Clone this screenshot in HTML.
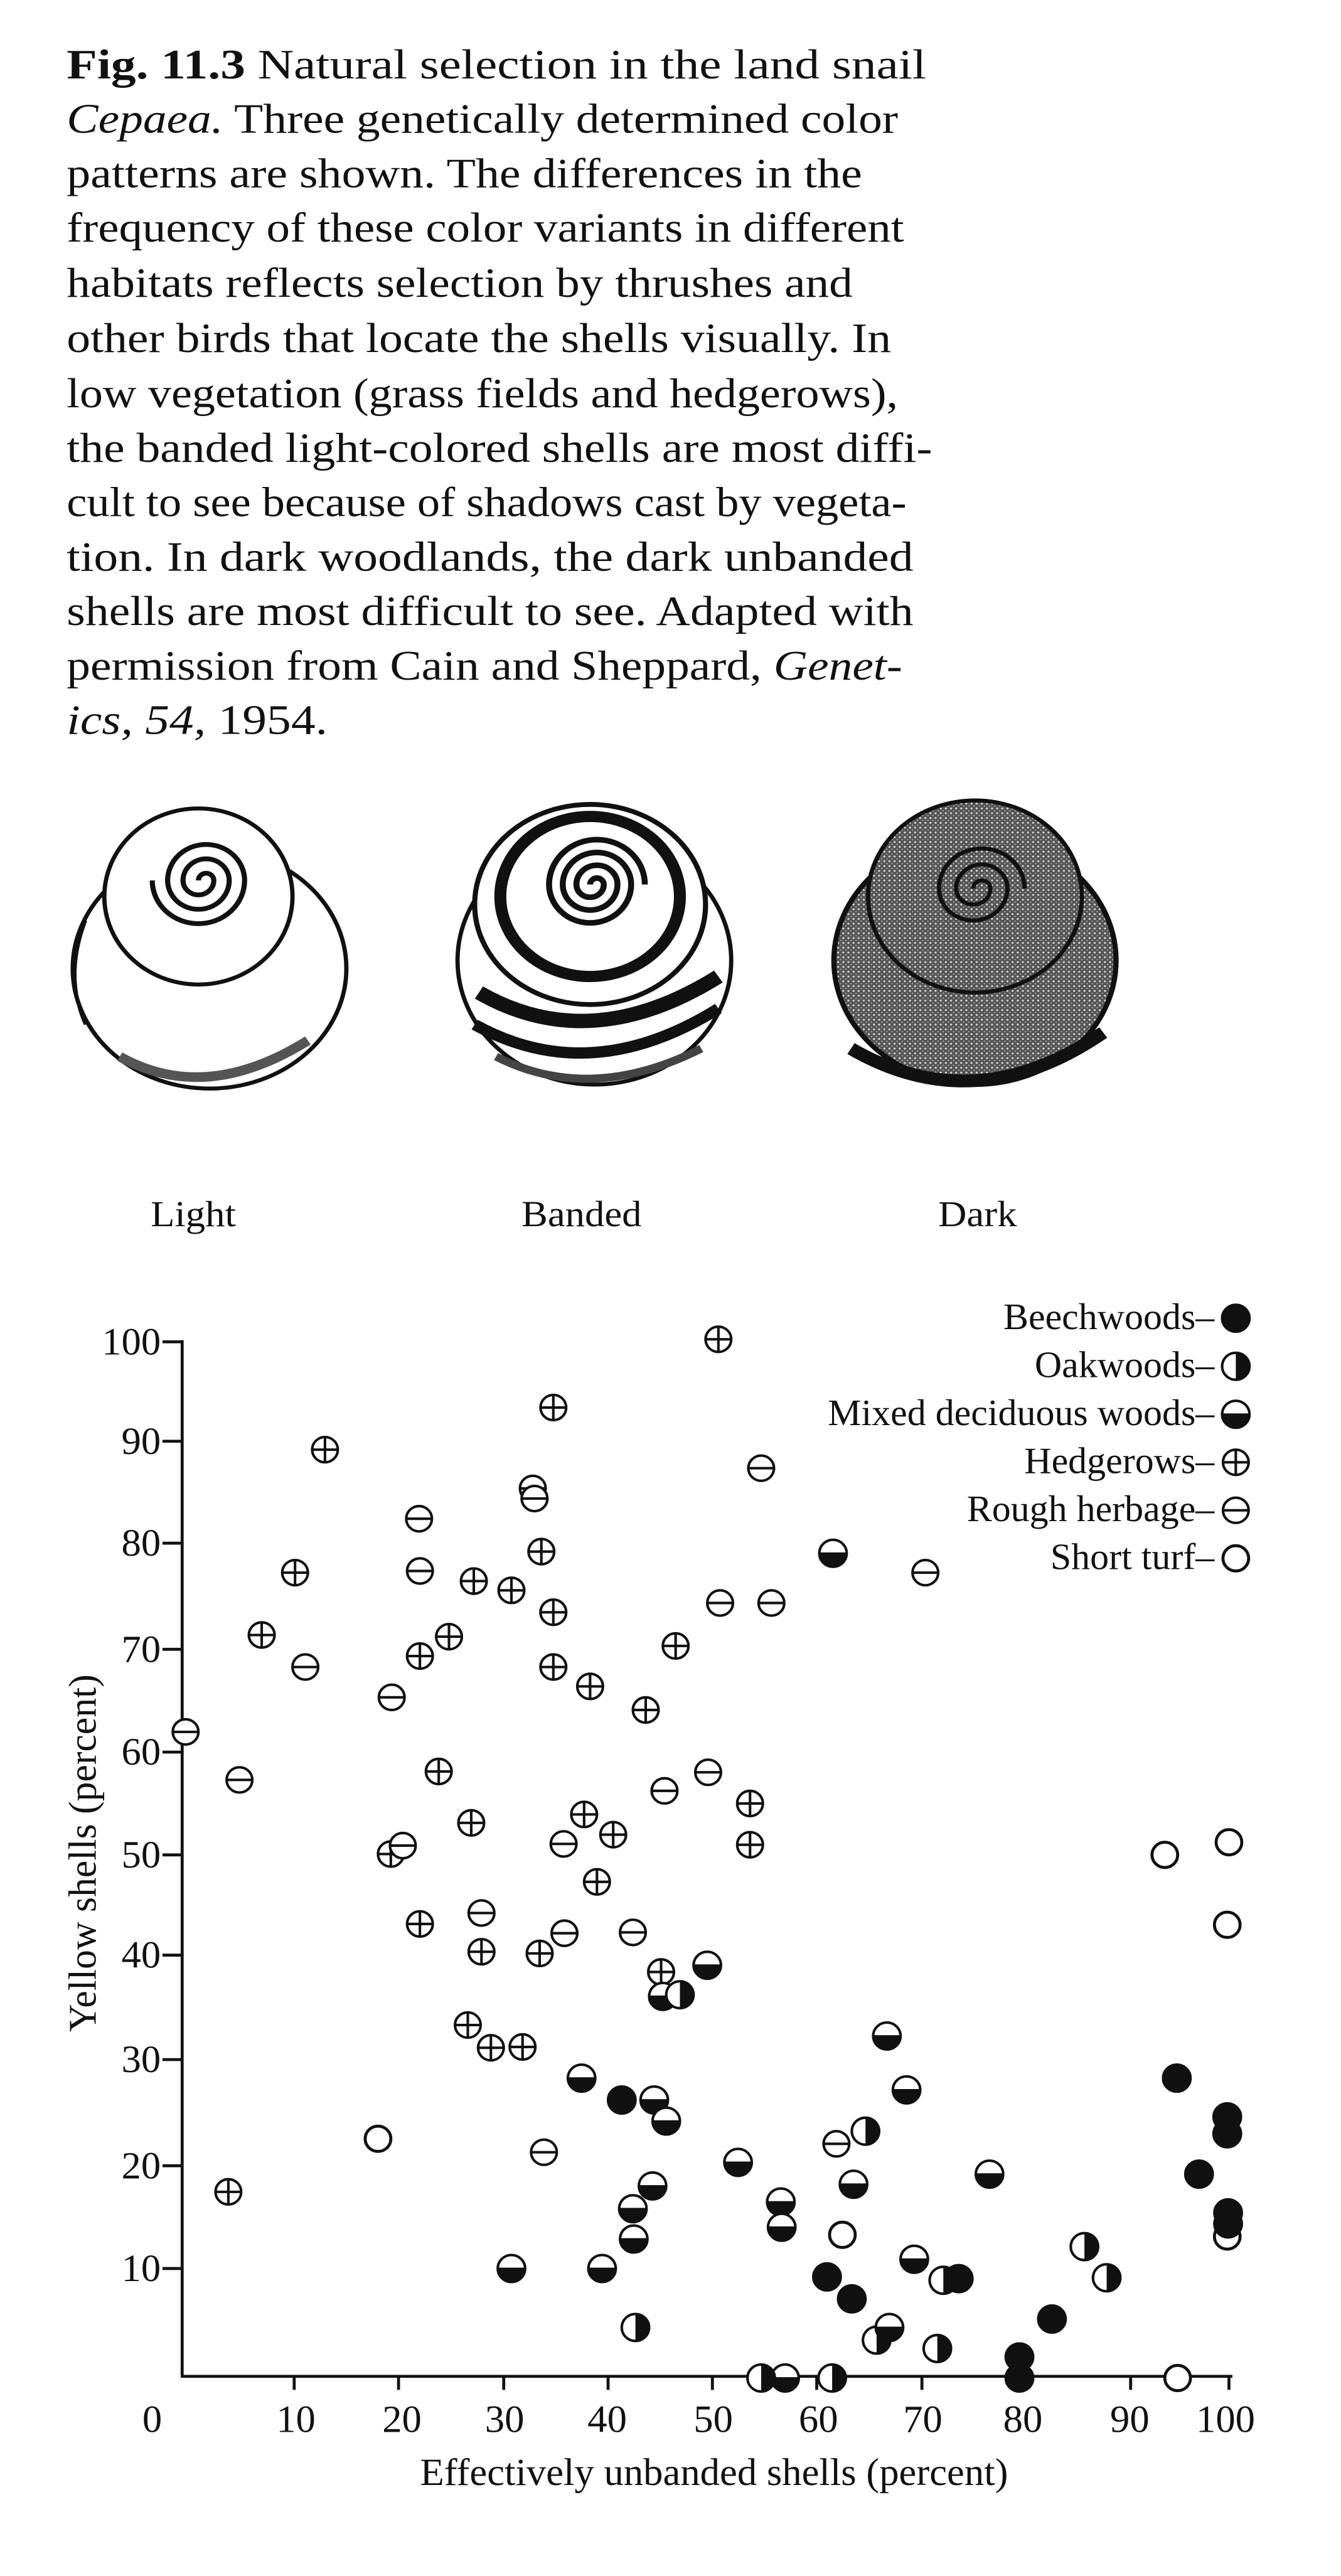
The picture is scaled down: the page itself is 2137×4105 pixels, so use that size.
<!DOCTYPE html>
<html><head><meta charset="utf-8"><style>
html,body{margin:0;padding:0;background:#fff;}
body{width:2137px;height:4105px;position:relative;overflow:hidden;}
svg{position:absolute;left:0;}
text{font-family:"Liberation Serif",serif;fill:#111;}
</style></head><body>
<svg style="top:0" width="2137" height="2000" viewBox="0 0 1568 1568" preserveAspectRatio="none">
<defs>
<pattern id="stip" width="6" height="6" patternUnits="userSpaceOnUse"><rect width="6" height="6" fill="#555"/><circle cx="2" cy="2" r="1.2" fill="#ddd"/><circle cx="5" cy="5" r="0.8" fill="#bbb"/></pattern>
</defs>
<g font-size="52">
<text x="78" y="98" textLength="1005" lengthAdjust="spacingAndGlyphs"><tspan font-weight="bold">Fig. 11.3</tspan>    Natural selection in the land snail</text>
<text x="78" y="166" textLength="972" lengthAdjust="spacingAndGlyphs"><tspan font-style="italic">Cepaea.</tspan> Three genetically determined color</text>
<text x="78" y="234" textLength="930" lengthAdjust="spacingAndGlyphs">patterns are shown. The differences in the</text>
<text x="78" y="302" textLength="979" lengthAdjust="spacingAndGlyphs">frequency of these color variants in different</text>
<text x="78" y="371" textLength="919" lengthAdjust="spacingAndGlyphs">habitats reflects selection by thrushes and</text>
<text x="78" y="440" textLength="964" lengthAdjust="spacingAndGlyphs">other birds that locate the shells visually. In</text>
<text x="78" y="509" textLength="972" lengthAdjust="spacingAndGlyphs">low vegetation (grass fields and hedgerows),</text>
<text x="78" y="577" textLength="1012" lengthAdjust="spacingAndGlyphs">the banded light-colored shells are most diffi-</text>
<text x="78" y="645" textLength="982" lengthAdjust="spacingAndGlyphs">cult to see because of shadows cast by vegeta-</text>
<text x="78" y="713" textLength="990" lengthAdjust="spacingAndGlyphs">tion. In dark woodlands, the dark unbanded</text>
<text x="78" y="781" textLength="990" lengthAdjust="spacingAndGlyphs">shells are most difficult to see. Adapted with</text>
<text x="78" y="849" textLength="977" lengthAdjust="spacingAndGlyphs">permission from Cain and Sheppard, <tspan font-style="italic">Genet-</tspan></text>
<text x="78" y="917" textLength="305" lengthAdjust="spacingAndGlyphs"><tspan font-style="italic">ics, 54,</tspan> 1954.</text>
</g>
<!-- Light snail -->
<g stroke="#111" fill="#fff">
<ellipse cx="245" cy="1210" rx="160" ry="150" stroke-width="5"/>
<ellipse cx="232" cy="1120" rx="110" ry="110" stroke-width="5"/>
<path d="M232,1100 a9,9 0 0,1 18,0 a18,18 0 0,1 -36,0 a27,27 0 0,1 54,0 a36,36 0 0,1 -72,0 a45,45 0 0,1 90,0 a54,54 0 0,1 -108,0" fill="none" stroke-width="6"/>
<path d="M100,1150 Q75,1220 100,1280" fill="none" stroke-width="4"/>
<path d="M140,1320 Q240,1380 360,1300" fill="none" stroke="#555" stroke-width="12"/>
</g>
<!-- Banded snail -->
<g stroke="#111" fill="#fff">
<ellipse cx="695" cy="1200" rx="160" ry="155" stroke-width="5"/>
<ellipse cx="690" cy="1130" rx="135" ry="125" stroke-width="6"/>
<path d="M560,1240 Q690,1320 840,1220" fill="none" stroke-width="18"/>
<path d="M555,1280 Q690,1360 840,1260" fill="none" stroke-width="14"/>
<path d="M580,1320 Q690,1380 820,1310" fill="none" stroke-width="10" stroke="#444"/>
<ellipse cx="690" cy="1120" rx="105" ry="100" fill="none" stroke-width="14"/>
<path d="M690,1105 a8,8 0 0,1 16,0 a16,16 0 0,1 -32,0 a24,24 0 0,1 48,0 a32,32 0 0,1 -64,0 a40,40 0 0,1 80,0 a48,48 0 0,1 -96,0 a56,56 0 0,1 112,0" fill="none" stroke-width="7"/>
</g>
<!-- Dark snail -->
<g stroke="#111">
<ellipse cx="1140" cy="1200" rx="165" ry="155" fill="url(#stip)" stroke-width="6"/>
<ellipse cx="1140" cy="1120" rx="125" ry="120" fill="url(#stip)" stroke-width="5"/>
<path d="M1138,1110 a10,10 0 0,1 20,0 a20,20 0 0,1 -40,0 a30,30 0 0,1 60,0 a40,40 0 0,1 -80,0 a50,50 0 0,1 100,0" fill="none" stroke-width="5"/>
<path d="M995,1310 Q1140,1400 1290,1290" fill="none" stroke-width="16"/>
</g>
<g font-size="46">
<text x="226" y="1532" text-anchor="middle">Light</text>
<text x="680" y="1532" text-anchor="middle">Banded</text>
<text x="1143" y="1532" text-anchor="middle">Dark</text>
</g>
</svg>

<svg style="top:2000px" width="2137" height="2105" viewBox="0 0 1568 1568" preserveAspectRatio="none">
<defs>
<g id="B"><circle r="16" fill="#111" stroke="#111" stroke-width="3"/></g>
<g id="O"><circle r="16" fill="#fff" stroke="#111" stroke-width="3"/><path d="M0,-16 A16,16 0 0,1 0,16 Z" fill="#111"/></g>
<g id="M"><circle r="16" fill="#fff" stroke="#111" stroke-width="3"/><path d="M-16,-1 A16,16 0 0,0 16,-1 Z" fill="#111"/></g>
<g id="H"><circle r="15" fill="#fff" stroke="#111" stroke-width="3"/><path d="M-15,0H15M0,-15V15" stroke="#111" stroke-width="3"/></g>
<g id="R"><circle r="15" fill="#fff" stroke="#111" stroke-width="3"/><path d="M-15,0H15" stroke="#111" stroke-width="3"/></g>
<g id="S"><circle r="15" fill="#fff" stroke="#111" stroke-width="3.5"/></g>
</defs>
<g stroke="#111" stroke-width="3.5" fill="none">
<path d="M213,101V1331H1441"/>
<path d="M190,103H213M190,221H213M190,342H213M190,468H213M190,590H213M190,712H213M190,831H213M190,955H213M190,1081H213M190,1203H213"/>
<path d="M344,1331V1347M466,1331V1347M589,1331V1347M711,1331V1347M833,1331V1347M955,1331V1347M1078,1331V1347M1200,1331V1347M1322,1331V1347M1437,1331V1347"/>
</g>
<g font-size="46" text-anchor="end">
<text x="188" y="118">100</text><text x="188" y="236">90</text><text x="188" y="357">80</text><text x="188" y="483">70</text><text x="188" y="605">60</text><text x="188" y="727">50</text><text x="188" y="846">40</text><text x="188" y="970">30</text><text x="188" y="1096">20</text><text x="188" y="1218">10</text>
</g>
<g font-size="46" text-anchor="middle">
<text x="178" y="1397">0</text><text x="346" y="1397">10</text><text x="470" y="1397">20</text><text x="590" y="1397">30</text><text x="710" y="1397">40</text><text x="834" y="1397">50</text><text x="957" y="1397">60</text><text x="1079" y="1397">70</text><text x="1196" y="1397">80</text><text x="1321" y="1397">90</text><text x="1433" y="1397">100</text>
<text x="835" y="1460">Effectively unbanded shells (percent)</text>
<text transform="translate(112,710) rotate(-90)">Yellow shells (percent)</text>
</g>
<g font-size="44" text-anchor="end">
<text x="1420" y="88">Beechwoods–</text>
<text x="1420" y="145">Oakwoods–</text>
<text x="1420" y="202">Mixed deciduous woods–</text>
<text x="1420" y="259">Hedgerows–</text>
<text x="1420" y="316">Rough herbage–</text>
<text x="1420" y="373">Short turf–</text>
</g>
<use href="#B" x="1445" y="75"/><use href="#O" x="1445" y="132"/><use href="#M" x="1445" y="189"/><use href="#H" x="1445" y="246"/><use href="#R" x="1445" y="303"/><use href="#S" x="1445" y="360"/>
<g>
<use href="#H" x="840" y="100"/><use href="#H" x="647" y="181"/><use href="#H" x="380" y="231"/><use href="#H" x="345" y="377"/><use href="#H" x="306" y="451"/><use href="#H" x="554" y="387"/><use href="#H" x="598" y="398"/><use href="#H" x="633" y="352"/><use href="#H" x="647" y="424"/><use href="#H" x="525" y="453"/><use href="#H" x="491" y="476"/><use href="#H" x="647" y="489"/><use href="#H" x="690" y="512"/><use href="#H" x="790" y="464"/><use href="#H" x="755" y="540"/><use href="#H" x="513" y="613"/><use href="#H" x="551" y="674"/><use href="#H" x="683" y="664"/><use href="#H" x="717" y="688"/><use href="#H" x="877" y="651"/><use href="#H" x="877" y="700"/><use href="#H" x="698" y="744"/><use href="#H" x="491" y="794"/><use href="#H" x="563" y="827"/><use href="#H" x="631" y="829"/><use href="#H" x="773" y="851"/><use href="#H" x="547" y="914"/><use href="#H" x="574" y="941"/><use href="#H" x="611" y="940"/><use href="#H" x="267" y="1112"/>
</g>
<g>
<use href="#R" x="217" y="566"/><use href="#R" x="280" y="623"/><use href="#R" x="357" y="489"/><use href="#R" x="458" y="525"/><use href="#R" x="490" y="313"/><use href="#R" x="491" y="375"/><use href="#R" x="623" y="277"/><use href="#R" x="625" y="289"/><use href="#R" x="890" y="253"/><use href="#R" x="842" y="413"/><use href="#R" x="902" y="413"/><use href="#R" x="1082" y="377"/><use href="#R" x="828" y="614"/><use href="#R" x="777" y="636"/><use href="#R" x="659" y="699"/><use href="#R" x="563" y="781"/><use href="#R" x="660" y="805"/><use href="#R" x="740" y="804"/><use href="#R" x="636" y="1065"/><use href="#R" x="978" y="1055"/>
<use href="#H" x="457" y="711"/><use href="#R" x="471" y="701"/>
</g>
<g>
<use href="#S" x="442" y="1049"/><use href="#S" x="1362" y="712"/><use href="#S" x="1437" y="697"/><use href="#S" x="1435" y="795"/><use href="#S" x="985" y="1163"/><use href="#S" x="1377" y="1333"/>
</g>
<g>
<use href="#M" x="974" y="354"/><use href="#M" x="827" y="843"/><use href="#M" x="680" y="977"/><use href="#M" x="765" y="1003"/><use href="#M" x="779" y="1028"/><use href="#M" x="863" y="1077"/><use href="#M" x="913" y="1124"/><use href="#M" x="914" y="1154"/><use href="#M" x="1037" y="927"/><use href="#M" x="1060" y="991"/><use href="#M" x="598" y="1203"/><use href="#M" x="704" y="1203"/><use href="#M" x="741" y="1168"/><use href="#M" x="740" y="1132"/><use href="#M" x="763" y="1105"/><use href="#M" x="998" y="1103"/><use href="#M" x="1069" y="1192"/><use href="#M" x="1157" y="1091"/><use href="#M" x="918" y="1333"/><use href="#M" x="775" y="880"/>
</g>
<g>
<use href="#O" x="795" y="878"/><use href="#O" x="1012" y="1040"/><use href="#O" x="743" y="1273"/><use href="#O" x="1025" y="1288"/><use href="#M" x="1040" y="1273"/><use href="#O" x="1096" y="1298"/><use href="#O" x="1268" y="1177"/><use href="#O" x="1294" y="1214"/><use href="#O" x="890" y="1333"/><use href="#O" x="973" y="1333"/><use href="#O" x="1103" y="1217"/>
</g>
<g>
<use href="#B" x="727" y="1003"/><use href="#B" x="1376" y="977"/><use href="#B" x="1435" y="1023"/><use href="#B" x="1435" y="1043"/><use href="#B" x="1402" y="1091"/><use href="#S" x="1435" y="1165"/><use href="#B" x="1436" y="1137"/><use href="#B" x="1436" y="1150"/><use href="#B" x="967" y="1213"/><use href="#B" x="996" y="1239"/><use href="#B" x="1230" y="1263"/><use href="#B" x="1192" y="1308"/><use href="#B" x="1192" y="1333"/><use href="#B" x="1121" y="1215"/>
</g>
</svg>
</body></html>
